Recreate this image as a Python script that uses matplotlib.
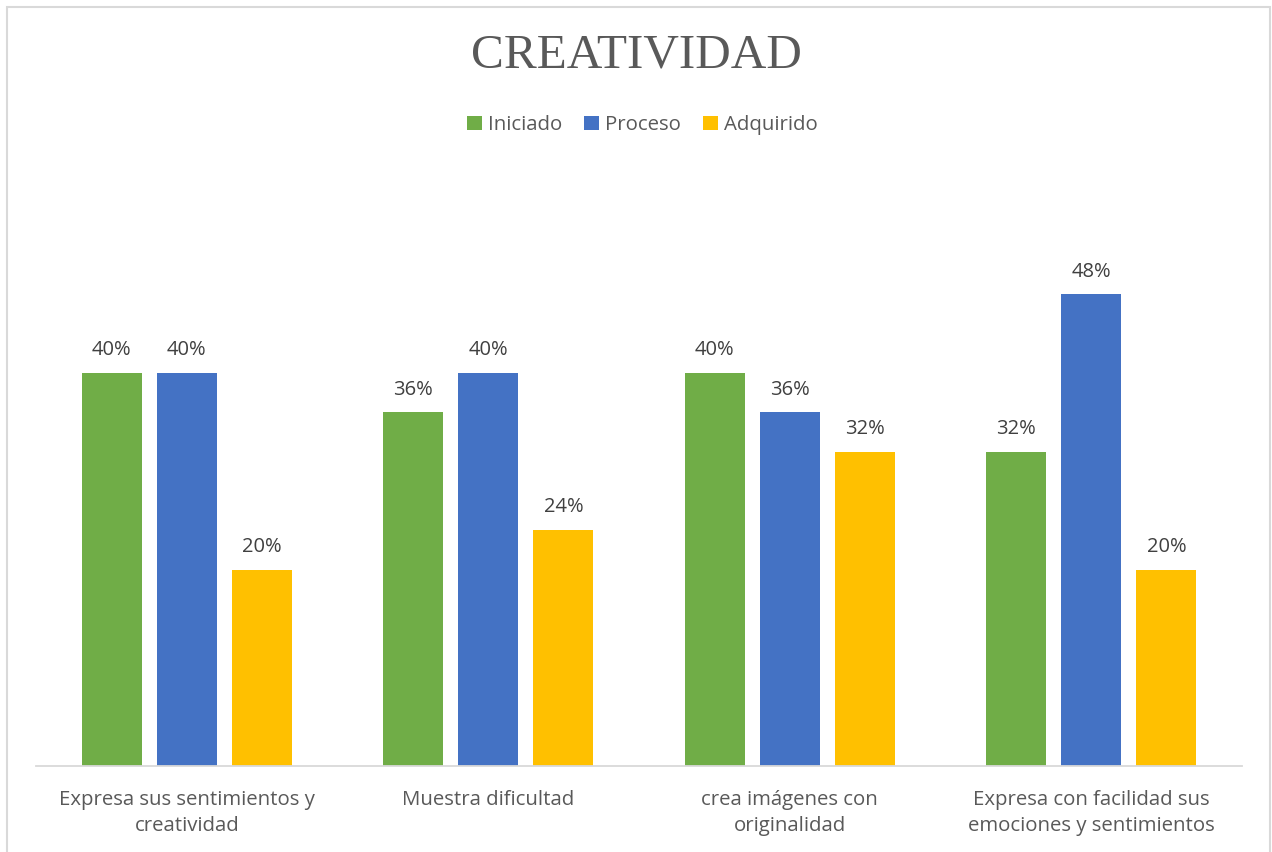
import numpy as np
import matplotlib.pyplot as plt
from matplotlib.patches import Rectangle

categorias = ["Expresa sus sentimientos y\ncreatividad",
              "Muestra dificultad",
              "crea imágenes con\noriginalidad",
              "Expresa con facilidad sus\nemociones y sentimientos"]
iniciado = [0.40, 0.36, 0.40, 0.32]
proceso = [0.40, 0.40, 0.36, 0.48]
adquirido = [0.20, 0.24, 0.32, 0.20]

series = [("Iniciado", iniciado, "#70ad47"),
          ("Proceso", proceso, "#4472c4"),
          ("Adquirido", adquirido, "#ffc000")]

W, H = 1272, 852
fig = plt.figure(figsize=(W / 100, H / 100), dpi=100)
plt.rcParams['font.family'] = ['Open Sans', 'DejaVu Sans']
txt = "#595959"

# Rahmen
fig.patches.append(Rectangle((7 / W, -0.01), (1270 - 7) / W, 1 - 7 / H + 0.01,
                             transform=fig.transFigure, fill=False,
                             edgecolor="#d9d9d9", linewidth=1.5))

ax = fig.add_axes([36 / W, 1 - 766 / H, (1242 - 36) / W, (766 - 176.5) / H])
x = np.arange(len(categorias))
breite = 0.199
versatz = 0.249
for i, (name, werte, farbe) in enumerate(series):
    pos = x + (i - 1) * versatz
    balken = ax.bar(pos, werte, breite, color=farbe, label=name)
    for b, v in zip(balken, werte):
        ax.text(b.get_x() + b.get_width() / 2, v + 0.013, f"{v * 100:.0f}%",
                ha="center", va="bottom", fontsize=14.5, color="#404040")

ax.set_xlim(-0.5, 3.5)
ax.set_ylim(0, 0.6)
ax.set_yticks([])
ax.set_xticks(x)
ax.set_xticklabels(categorias, fontsize=14.7, color=txt, linespacing=1.45)
ax.tick_params(axis="x", length=0, pad=17)
for s in ["top", "left", "right"]:
    ax.spines[s].set_visible(False)
ax.spines["bottom"].set_color("#d9d9d9")
ax.spines["bottom"].set_linewidth(1.3)

fig.text(0.5, 1 - 56 / H, "CREATIVIDAD", ha="center", va="center",
         fontsize=35.5, color=txt, family="Liberation Serif")

fig.legend(loc="center", bbox_to_anchor=(0.505, 1 - 125 / H), ncol=3, frameon=False,
           fontsize=14.7, handlelength=0.7, handleheight=0.7, handletextpad=0.3,
           columnspacing=1.1, labelcolor=txt)

fig.savefig("out.png", dpi=100)
